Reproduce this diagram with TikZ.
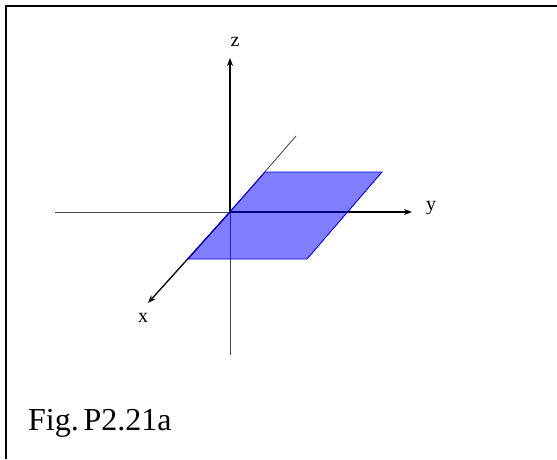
\documentclass[tikz,border=0pt]{standalone}
\usepackage{fontspec}
\setmainfont{Liberation Serif}
\usetikzlibrary{arrows.meta}
\begin{document}
\begin{tikzpicture}[x=1pt,y=-1pt,
  thinaxis/.style={draw=black!70,line width=0.9pt},
  vecaxis/.style={draw=black,line width=1.3pt,-{Stealth[length=8pt,width=6pt]}},
  axlabel/.style={font=\fontsize{20}{22}\selectfont,inner sep=0pt},
  planefill/.style={fill=blue,fill opacity=0.5,draw=blue!85!black,line width=0.9pt}]
\useasboundingbox (0,0) rectangle (557,459);
% frame (top and left edges)
\draw[line width=2pt] (6,459) -- (6,6) -- (557,6);
% coordinates
\coordinate (O) at (230,212);
\coordinate (zt) at (230,58);
\coordinate (zb) at (230,355);
\coordinate (yl) at (55,212);
\coordinate (yt) at (412,212);
\coordinate (xb) at (296,136);
\coordinate (xt) at (148,303);
\coordinate (pA) at (188,259);
\coordinate (pB) at (307,259);
\coordinate (pC) at (382,172);
\coordinate (pD) at (265,172);
% axes
\draw[thinaxis] (zb) -- (O);
\draw[thinaxis] (yl) -- (O);
\draw[thinaxis] (xb) -- (O);
\draw[vecaxis] (O) -- (zt);
\draw[vecaxis] (O) -- (yt);
\draw[vecaxis] (O) -- (xt);
% plane
\path[planefill] (pA) -- (pB) -- (pC) -- (pD) -- cycle;
% labels
\node[axlabel] (zl) at (235,42) {z};
\node[axlabel] (ylab) at (431,208) {y};
\node[axlabel] (xl) at (143,318) {x};
\node[anchor=base west,inner sep=0pt,font=\fontsize{32}{36}\selectfont] (cap) at (28,430) {Fig.\hspace{0.15em}P2.21a};
\end{tikzpicture}
\end{document}
